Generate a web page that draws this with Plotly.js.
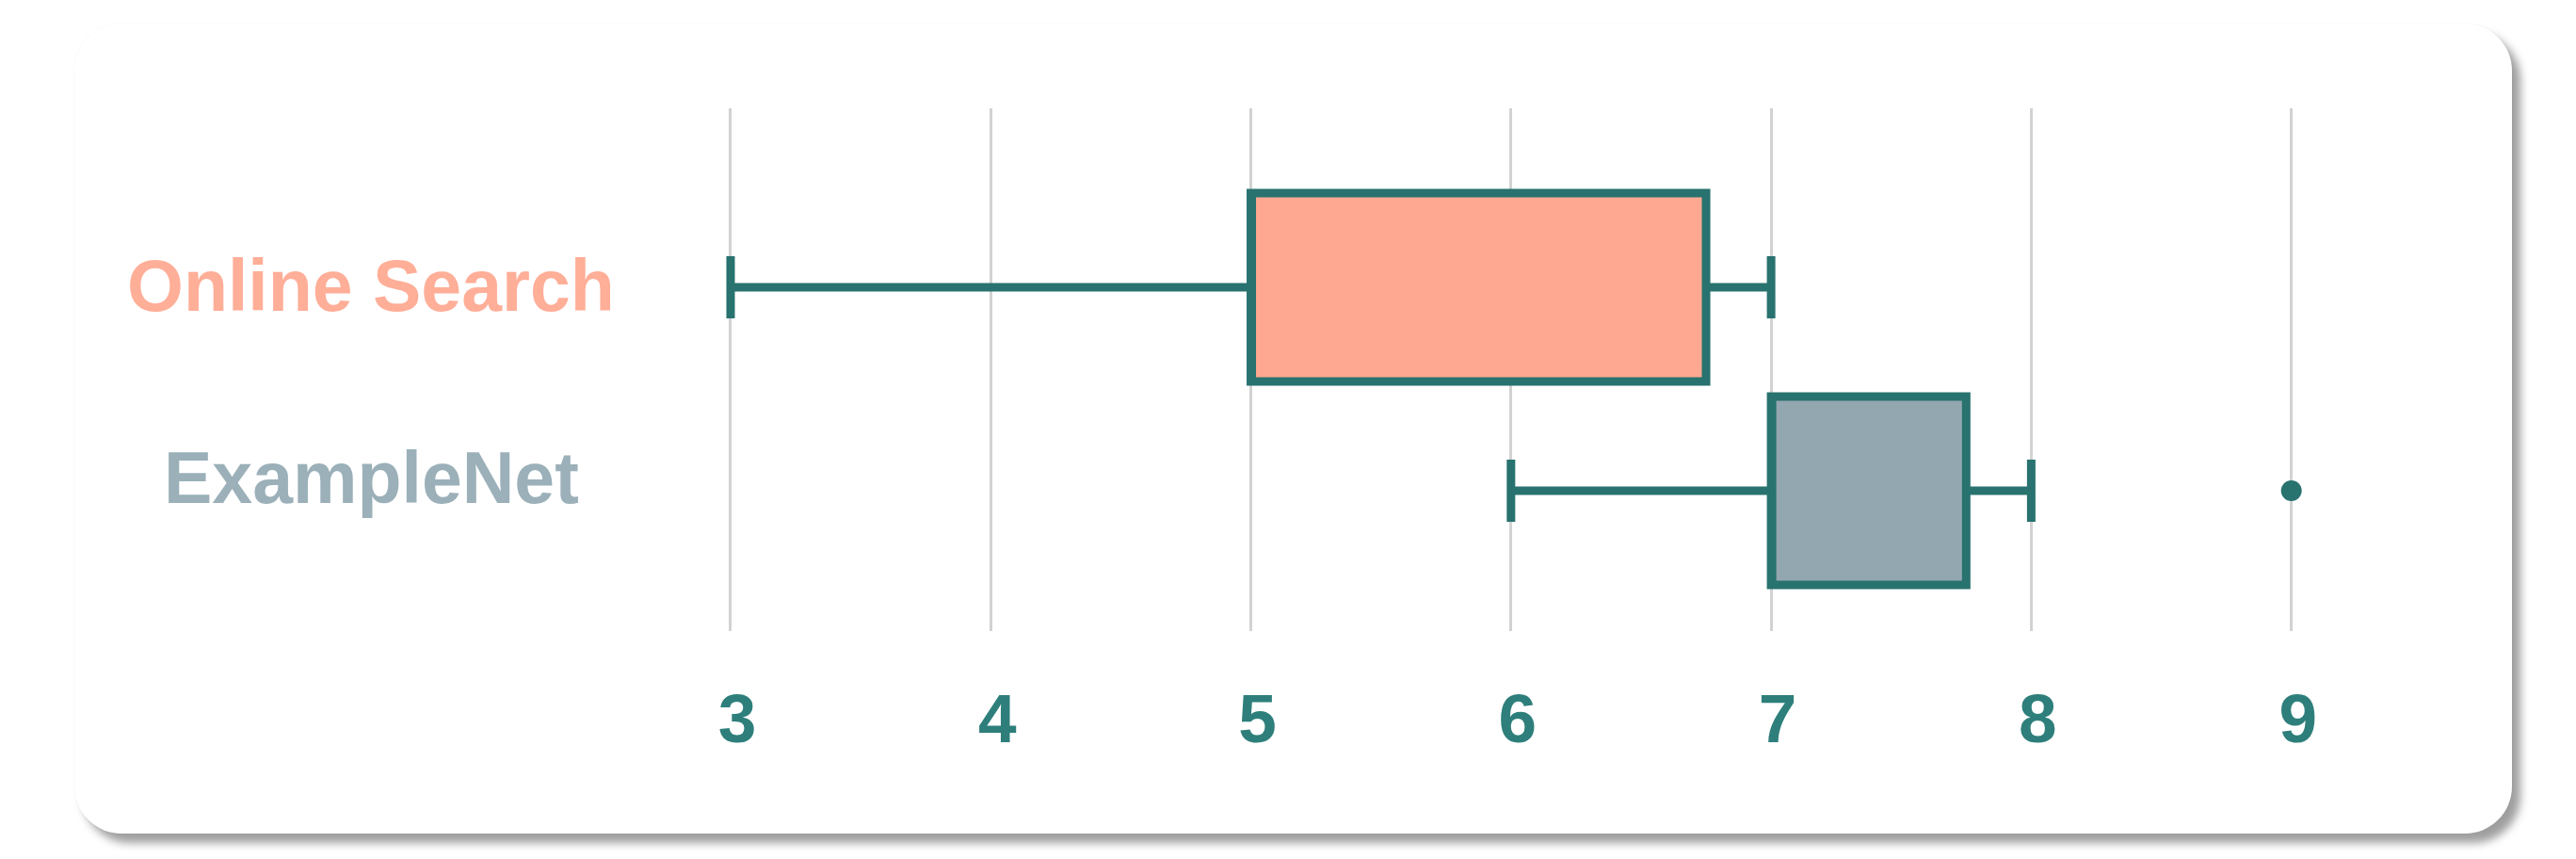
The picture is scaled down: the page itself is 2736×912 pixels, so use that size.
<!DOCTYPE html>
<html>
<head>
<meta charset="utf-8">
<script src="https://cdn.plot.ly/plotly-3.0.1.min.js"></script>
<style>
  html, body { margin: 0; padding: 0; background: #ffffff; width: 2736px; height: 912px; overflow: hidden; }
  #card {
    position: absolute; left: 79px; top: 25px; width: 2589px; height: 860px;
    background: #ffffff; border-radius: 50px;
    box-shadow: 9px 10px 10px rgba(0,0,0,0.38), 0 0 3px rgba(0,0,0,0.04);
  }
  #chart { position: absolute; left: 0; top: 0; width: 2736px; height: 912px; }
</style>
</head>
<body>
<div id="card"></div>
<div id="chart"></div>
<script>
// ---- data ----
const categories = ["Online Search", "ExampleNet"];
const lowerWhisker = [3, 6];
const q1Values = [5, 7];
const medianValues = [5, 7];
const q3Values = [6.75, 7.75];
const upperWhisker = [7, 8];
const outlierCategories = ["ExampleNet"];
const outlierValues = [9];
const tickValues = [3, 4, 5, 6, 7, 8, 9];
const tickLabels = ["3", "4", "5", "6", "7", "8", "9"];

// ---- styles ----
const fillColors = ["#FFA891", "#93A7B1"];
const labelColors = ["#FFAE98", "#9BB0B9"];
const lineColor = "#28726F";
const tickColor = "#2E7F7B";
const labelYShift = [2, 14];

const traces = categories.map((c, i) => ({
  type: "box",
  orientation: "h",
  name: c,
  y: [c],
  q1: [q1Values[i]],
  median: [medianValues[i]],
  q3: [q3Values[i]],
  lowerfence: [lowerWhisker[i]],
  upperfence: [upperWhisker[i]],
  fillcolor: fillColors[i],
  line: { color: lineColor, width: 9 },
  whiskerwidth: 0.33,
  hoverinfo: "skip",
  showlegend: false
}));

traces.push({
  type: "scatter",
  mode: "markers",
  x: outlierValues,
  y: outlierCategories,
  marker: { color: lineColor, size: 22 },
  hoverinfo: "skip",
  showlegend: false
});

const annotations = categories.map((c, i) => ({
  xref: "paper", yref: "y",
  x: -0.161, y: c,
  xanchor: "center", yanchor: "middle",
  yshift: labelYShift[i],
  text: "<b>" + c + "</b>",
  showarrow: false,
  font: { family: "Liberation Sans, Arial, sans-serif", size: 77, color: labelColors[i] }
}));

const layout = {
  width: 2736, height: 912,
  paper_bgcolor: "rgba(0,0,0,0)",
  plot_bgcolor: "rgba(0,0,0,0)",
  margin: { l: 700, r: 136, t: 115, b: 242, pad: 0 },
  boxgap: 0.074,
  boxgroupgap: 0,
  xaxis: {
    range: [2.725, 9.602],
    tickvals: tickValues,
    ticktext: tickLabels.map(t => "<b>" + t + "</b>"),
    showgrid: true,
    gridcolor: "#D2D2D2",
    gridwidth: 3,
    zeroline: false,
    showline: false,
    ticks: "",
    ticklabelstandoff: 44,
    ticklabelshift: 7,
    tickfont: { family: "Liberation Sans, Arial, sans-serif", size: 73, color: tickColor },
    fixedrange: true
  },
  yaxis: {
    type: "category",
    categoryorder: "array",
    categoryarray: categories,
    range: [1.69, -0.88],
    showticklabels: false,
    showgrid: false,
    zeroline: false,
    showline: false,
    ticks: "",
    fixedrange: true
  },
  annotations: annotations
};

Plotly.newPlot("chart", traces, layout, { staticPlot: true, displayModeBar: false });
</script>
</body>
</html>
